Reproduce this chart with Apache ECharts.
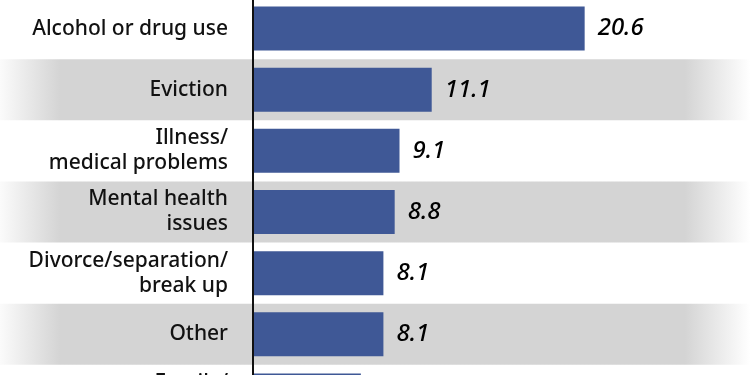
<!DOCTYPE html>
<html lang="en">
<head>
    <meta charset="utf-8">
    <title>Reasons</title>
    <script src="https://cdn.jsdelivr.net/npm/echarts@6/dist/echarts.min.js"></script>
    <style>
        html, body { margin: 0; padding: 0; background: #fff; }
        #main { width: 750px; height: 375px; }
    </style>
</head>
<body>
    <div id="main"></div>
    <script type="text/javascript">
        // categories, top to bottom
        var categories = [
            'Alcohol or drug use',
            'Eviction',
            'Illness/\nmedical problems',
            'Mental health\nissues',
            'Divorce/separation/\nbreak up',
            'Other',
            'Family/\nrelationship issues'
        ];
        var values = [20.6, 11.1, 9.1, 8.8, 8.1, 8.1, 6.7];

        var myChart = echarts.init(document.getElementById('main'));

        // grey band with faded ends
        var band = new echarts.graphic.LinearGradient(0, 0, 1, 0, [
            { offset: 0, color: '#fbfbfb' },
            { offset: 0.08, color: '#d4d4d4' },
            { offset: 0.913, color: '#d4d4d4' },
            { offset: 1, color: '#ffffff' }
        ]);

        myChart.setOption({
            animation: false,
            grid: [
                { left: 253, width: 483, top: -2, height: 428, outerBoundsMode: 'none', containLabel: false },
                { left: 0, width: 750, top: -2, height: 428, outerBoundsMode: 'none', containLabel: false }
            ],
            xAxis: [
                { type: 'value', gridIndex: 0, min: 0, max: 30, show: false },
                { type: 'value', gridIndex: 1, min: 0, max: 1, show: false }
            ],
            yAxis: [
                {
                    type: 'category',
                    gridIndex: 0,
                    inverse: true,
                    data: categories,
                    z: 5,
                    axisLine: { show: true, lineStyle: { color: '#111', width: 2 } },
                    axisTick: { show: false },
                    axisLabel: {
                        margin: 25,
                        fontSize: 21,
                        lineHeight: 25,
                        fontWeight: 500,
                        color: '#111',
                        fontFamily: 'Noto Sans'
                    }
                },
                {
                    type: 'category',
                    gridIndex: 1,
                    inverse: true,
                    data: categories,
                    z: 0,
                    axisLine: { show: false },
                    axisTick: { show: false },
                    axisLabel: { show: false },
                    splitArea: {
                        show: true,
                        areaStyle: { color: ['rgba(255,255,255,0)', band] }
                    }
                }
            ],
            series: [{
                type: 'bar',
                xAxisIndex: 0,
                yAxisIndex: 0,
                data: values,
                barWidth: 44,
                itemStyle: { color: '#3f5896' },
                label: {
                    show: true,
                    position: 'right',
                    distance: 13,
                    fontSize: 24,
                    fontStyle: 'italic',
                    fontWeight: 500,
                    color: '#000',
                    fontFamily: 'Noto Sans'
                }
            }]
        });
    </script>
</body>
</html>
